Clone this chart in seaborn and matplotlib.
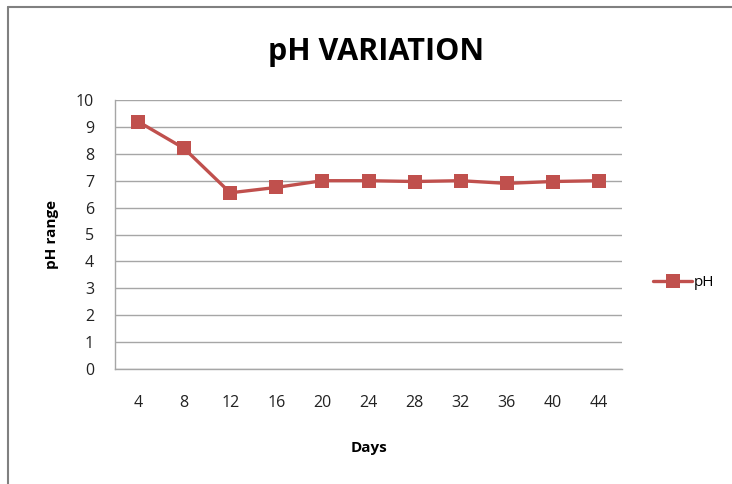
import numpy as np
import pandas as pd
import matplotlib
matplotlib.use("Agg")
import matplotlib.pyplot as plt
from matplotlib.lines import Line2D
from matplotlib.ticker import FixedLocator
import seaborn as sns

# values
days = [4, 8, 12, 16, 20, 24, 28, 32, 36, 40, 44]
ph_values = [9.2, 8.2, 6.55, 6.75, 7.0, 7.0, 6.97, 7.0, 6.9, 6.97, 7.0]
y_ticks = list(range(0, 11))

df = pd.DataFrame({"Days": days, "pH": ph_values})

sns.set_style("white")
plt.rcParams["font.family"] = ["Open Sans", "DejaVu Sans"]
plt.rcParams["text.color"] = "black"
plt.rcParams["axes.labelcolor"] = "black"
plt.rcParams["xtick.labelcolor"] = "#222222"
plt.rcParams["ytick.labelcolor"] = "#222222"

red = "#C0504D"
grid_col = "#A6A6A6"

fig = plt.figure(figsize=(7.32, 4.84), dpi=100, facecolor="white")
ax = fig.add_axes([115 / 732, 1 - 369 / 484, (622 - 115) / 732, (369 - 100) / 484])

sns.lineplot(data=df, x="Days", y="pH", ax=ax, color=red, linewidth=2.4,
             marker="s", markersize=10, markeredgewidth=0, label="pH")

ax.set_xlim(days[0] - 2, days[-1] + 2)
ax.set_ylim(0, 10)
ax.set_yticks(y_ticks)
ax.set_xticks(days)
ax.xaxis.set_minor_locator(FixedLocator([d - 2 for d in days] + [days[-1] + 2]))
ax.tick_params(axis="x", which="major", length=0, pad=19, labelsize=11.5)
ax.tick_params(axis="x", which="minor", length=5, color=grid_col, direction="out")
ax.tick_params(axis="y", length=6, color=grid_col, direction="out", labelsize=11.5, pad=9)

ax.grid(axis="y", color=grid_col, linewidth=1)
ax.set_axisbelow(True)
for side in ["top", "right"]:
    ax.spines[side].set_visible(False)
for side in ["left", "bottom"]:
    ax.spines[side].set_color(grid_col)
    ax.spines[side].set_linewidth(1)

ax.set_xlabel("Days", fontsize=11, fontweight="bold", labelpad=21)
ax.set_ylabel("pH range", fontsize=11, fontweight="bold", labelpad=12)
fig.text((268 + 484) / 2 / 732, 1 - 52 / 484, "pH VARIATION", ha="center", va="center",
         fontsize=22, fontweight="bold")

leg = ax.legend(loc="center left", bbox_to_anchor=(645 / 732, 1 - 283 / 484),
                bbox_transform=fig.transFigure, frameon=False, fontsize=11,
                handlelength=2.6, handletextpad=0.1, borderpad=0)

# outer chart frame
fig.add_artist(Line2D([8 / 732, 8 / 732], [0, 1 - 7 / 484], color="#808080", linewidth=1.5))
fig.add_artist(Line2D([8 / 732, 1], [1 - 7 / 484, 1 - 7 / 484], color="#808080", linewidth=1.5))

fig.savefig("out.png", dpi=100, facecolor="white")
